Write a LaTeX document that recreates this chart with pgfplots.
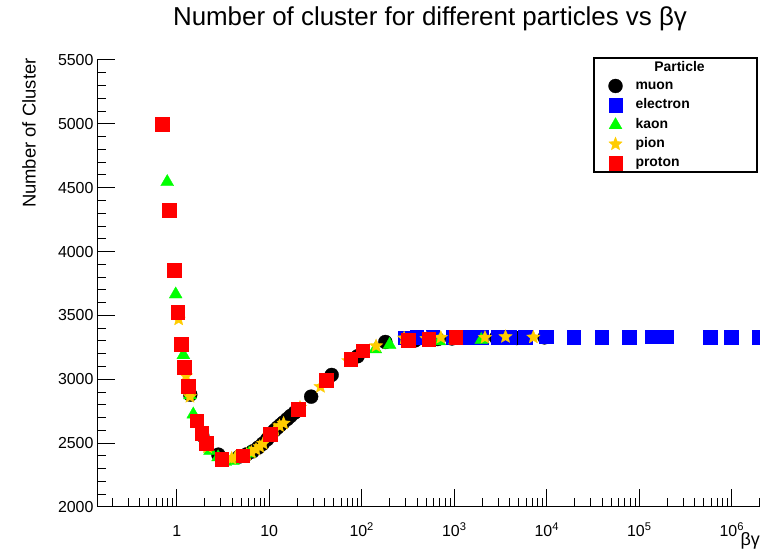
\documentclass[border=0pt]{standalone}
\usepackage{pgfplots}
\pgfplotsset{compat=1.18}
\usepackage{fontspec}
\setmainfont{Liberation Sans}
\definecolor{rgold}{RGB}{255,204,0}
\definecolor{rgreen}{RGB}{0,255,0}
\definecolor{rblue}{RGB}{0,0,255}
\definecolor{rred}{RGB}{255,0,0}
\pgfdeclareplotmark{fstar}{%
  \pgfpathmoveto{\pgfpointpolar{90}{\pgfplotmarksize}}%
  \pgfpathlineto{\pgfpointpolar{126}{0.45\pgfplotmarksize}}%
  \pgfpathlineto{\pgfpointpolar{162}{\pgfplotmarksize}}%
  \pgfpathlineto{\pgfpointpolar{198}{0.45\pgfplotmarksize}}%
  \pgfpathlineto{\pgfpointpolar{234}{\pgfplotmarksize}}%
  \pgfpathlineto{\pgfpointpolar{270}{0.45\pgfplotmarksize}}%
  \pgfpathlineto{\pgfpointpolar{306}{\pgfplotmarksize}}%
  \pgfpathlineto{\pgfpointpolar{342}{0.45\pgfplotmarksize}}%
  \pgfpathlineto{\pgfpointpolar{18}{\pgfplotmarksize}}%
  \pgfpathlineto{\pgfpointpolar{54}{0.45\pgfplotmarksize}}%
  \pgfpathclose
  \pgfusepathqfillstroke
}
\begin{document}
\begin{tikzpicture}[x=1bp,y=1bp]
\useasboundingbox (0,0) rectangle (760,550);
\begin{axis}[
  at={(97bp,43bp)}, anchor=south west,
  scale only axis, width=663bp, height=447bp,
  xmode=log, xmin=0.1375, xmax=2.02e6, ymin=2000, ymax=5500,
  axis x line*=bottom, axis y line*=left,
  axis line style={-, line width=1bp, black},
  tick align=inside, major tick length=18bp, minor tick length=9bp,
  every tick/.append style={black, line width=1bp},
  xtick={1,10,100,1000,10000,100000,1000000},
  xticklabels={1,10,10\textsuperscript{2},10\textsuperscript{3},10\textsuperscript{4},10\textsuperscript{5},10\textsuperscript{6}},
  minor xtick={0.2,0.3,0.4,0.5,0.6,0.7,0.8,0.9,2,3,4,5,6,7,8,9,20,30,40,50,60,70,80,90,200,300,400,500,600,700,800,900,2000,3000,4000,5000,6000,7000,8000,9000,20000,30000,40000,50000,60000,70000,80000,90000,200000,300000,400000,500000,600000,700000,800000,900000,2000000},
  ytick={2000,2500,3000,3500,4000,4500,5000,5500},
  minor ytick={2100,2200,2300,2400,2600,2700,2800,2900,3100,3200,3300,3400,3600,3700,3800,3900,4100,4200,4300,4400,4600,4700,4800,4900,5100,5200,5300,5400},
  /pgf/number format/assume math mode=true,
  /pgf/number format/1000 sep={},
  xticklabel style={font=\fontsize{16}{18}\selectfont, anchor=base, yshift=-30bp},
  yticklabel style={font=\fontsize{16}{18}\selectfont, anchor=east},
  title={Number of cluster for different particles vs βγ},
  title style={at={(axis description cs:0.5023,1.0649)}, anchor=base, font=\fontsize{26}{30}\selectfont},
  xlabel={βγ},
  xlabel style={at={(axis description cs:1,-0.0872)}, anchor=base east, inner sep=0pt, font=\fontsize{18}{20}\selectfont},
  ylabel={Number of Cluster},
  ylabel style={at={(axis description cs:-0.0925,1.004)}, anchor=base east, inner sep=0pt, font=\fontsize{18.5}{20}\selectfont},
  clip=false,
  legend style={at={(axis description cs:0.7715,0.9575)}, anchor=north west, draw=none, fill=none,
    inner sep=0pt, outer sep=0pt, row sep=5.5bp,
    font=\bfseries\fontsize{14}{16}\selectfont,
    nodes={inner sep=0pt, text height=10bp, text depth=3bp},
    /tikz/every odd column/.append style={column sep=13bp}},
  legend cell align=left,
]
% muon
\addplot[only marks, mark=*, mark size=7bp, mark options={fill=black, draw=black, line width=0.3bp}] coordinates {
(1.40,2880) (1.89,2560) (2.82,2410) (4.73,2395) (5.7,2412) (6.6,2435) (7.6,2465) (8.5,2495)
(9.5,2530) (10.4,2575) (11.4,2600) (12.3,2622) (13.2,2642) (14.2,2662) (15.6,2688) (17.0,2712)
(18.9,2740) (28.4,2864) (47.3,3034) (90,3180) (180,3292) (378,3305) (662,3315) (946,3320)
(2838,3325) (4730,3323) (9460,3328)
};
\addlegendentry{muon}
% electron
\addplot[only marks, mark=square*, mark size=6.8bp, mark options={fill=rblue, draw=rblue, line width=0.3bp}] coordinates {
(293,3326) (391,3330) (587,3331) (978,3330) (1370,3332) (1957,3331) (2935,3330) (3914,3332)
(5871,3330) (9785,3333) (19570,3329) (39140,3329) (78280,3330) (136986,3333) (195700,3333)
(587100,3330) (978500,3330) (1957000,3332)
};
\addlegendentry{electron}
% kaon
\addplot[only marks, mark=triangle*, mark size=7.5bp, mark options={fill=rgreen, draw=rgreen, line width=0.3bp}] coordinates {
(0.79,4545) (0.975,3665) (1.18,3190) (1.39,2875) (1.51,2725) (1.9,2560) (2.29,2440) (2.8,2390)
(3.33,2355) (4.05,2362) (6.08,2420) (10.1,2565) (20.3,2758) (40.5,2988) (140,3236) (200,3270)
(690,3298) (1013,3305) (1960,3308)
};
\addlegendentry{kaon}
% pion
\addplot[only marks, mark=fstar, mark size=7bp, mark options={fill=rgold, draw=rgold, line width=0.3bp}] coordinates {
(1.05,3470) (1.26,3026) (1.39,2864) (2.15,2470) (3.93,2381) (4.3,2388) (5.0,2398) (5.7,2412)
(6.4,2428) (7.2,2450) (7.9,2472) (8.6,2498) (10.0,2560) (11.5,2605) (12.9,2635) (14.3,2655)
(21.5,2780) (35.8,2942) (71.6,3145) (143,3261) (287,3322) (501,3318) (716,3327) (2149,3327)
(3582,3333) (7163,3329)
};
\addlegendentry{pion}
% proton
\addplot[only marks, mark=square*, mark size=6.8bp, mark options={fill=rred, draw=rred, line width=0.3bp}] coordinates {
(0.693,4999) (0.826,4325) (0.935,3856) (1.025,3524) (1.11,3276) (1.21,3096) (1.335,2947)
(1.645,2676) (1.86,2579) (2.07,2501) (3.07,2376) (5.17,2402) (10.2,2572) (20.6,2765)
(41.1,2994) (76,3156) (102.5,3224) (317,3308) (530,3315) (1038,3329)
};
\addlegendentry{proton}
\end{axis}
\draw[line width=1.2bp, black] (594,378) rectangle (757,492);
\node[anchor=base, inner sep=0pt, font=\bfseries\fontsize{14}{16}\selectfont] at (679.5,478) {Particle};
\end{tikzpicture}
\end{document}
